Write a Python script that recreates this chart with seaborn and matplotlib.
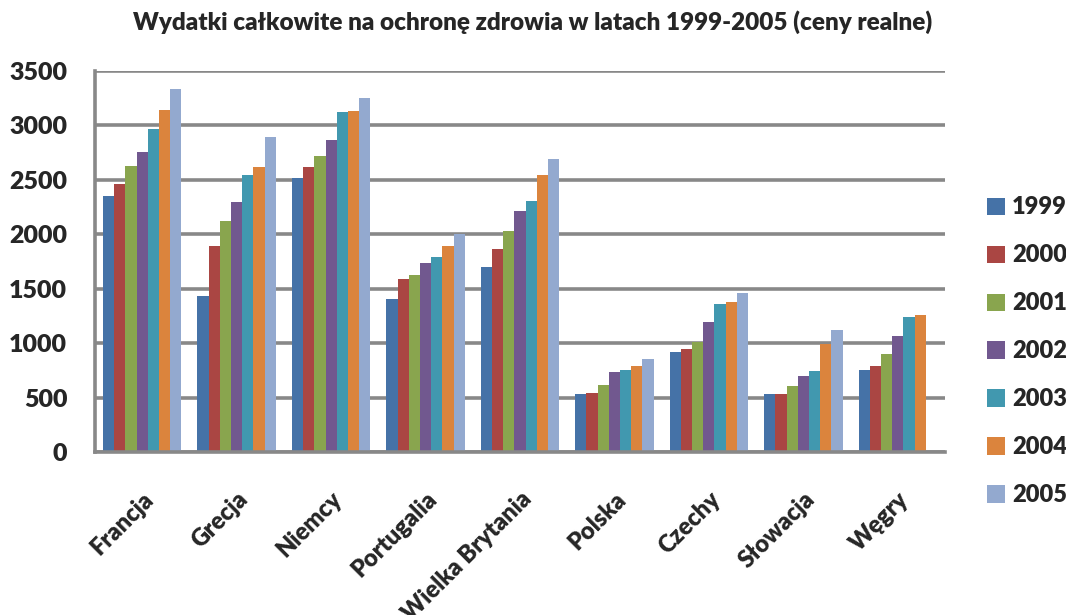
import numpy as np
import pandas as pd
import matplotlib
matplotlib.use("Agg")
import matplotlib.pyplot as plt
import seaborn as sns

countries = ["Francja", "Grecja", "Niemcy", "Portugalia", "Wielka Brytania",
             "Polska", "Czechy", "Słowacja", "Węgry"]
years = ["1999", "2000", "2001", "2002", "2003", "2004", "2005"]

v1999 = [2354, 1436, 2520, 1402, 1696, 533, 919, 530, 756]
v2000 = [2459, 1895, 2615, 1589, 1862, 545, 943, 530, 790]
v2001 = [2624, 2119, 2719, 1626, 2027, 615, 1013, 603, 897]
v2002 = [2753, 2293, 2863, 1733, 2214, 732, 1191, 698, 1063]
v2003 = [2967, 2541, 3120, 1791, 2309, 756, 1356, 744, 1237]
v2004 = [3145, 2615, 3132, 1895, 2545, 793, 1378, 992, 1258]
v2005 = [3332, 2897, 3249, 2003, 2688, 851, 1461, 1121, np.nan]

series = [v1999, v2000, v2001, v2002, v2003, v2004, v2005]
colors = ["#4572A7", "#AA4643", "#89A54E", "#71588F", "#4198AF", "#DB843D", "#93A9CF"]

rows = []
for y, vals in zip(years, series):
    for c, v in zip(countries, vals):
        rows.append({"country": c, "year": y, "value": v})
df = pd.DataFrame(rows)

sns.set_theme(style="white")
plt.rcParams["font.family"] = ["Lato", "DejaVu Sans"]
plt.rcParams["font.weight"] = "bold"

fig = plt.figure(figsize=(10.66, 6.15), dpi=100)
ax = fig.add_axes([95/1066, 1-452/615, (945-95)/1066, (452-71)/615])

sns.barplot(data=df, x="country", y="value", hue="year", order=countries,
            hue_order=years, palette=colors, width=0.83, ax=ax,
            saturation=1, linewidth=0, errorbar=None, legend=True)

ax.set_ylim(0, 3500)
ax.set_yticks(range(0, 3501, 500))
ax.set_xlim(-0.5, len(countries) - 0.5)
ax.yaxis.grid(True, color="#888888", linewidth=2.6)
ax.set_axisbelow(True)
for s in ["top", "right"]:
    ax.spines[s].set_visible(False)
ax.spines["left"].set_color("#888888")
ax.spines["left"].set_linewidth(2.6)
ax.spines["bottom"].set_color("#888888")
ax.spines["bottom"].set_linewidth(2.6)
ax.tick_params(axis="both", length=0)
ax.tick_params(axis="y", labelsize=18, pad=20)
ax.set_xlabel("")
ax.set_ylabel("")
for lab in ax.get_yticklabels():
    lab.set_fontweight("heavy")
ax.set_xticks(range(len(countries)))
ax.set_xticklabels(countries, rotation=45, ha="right", rotation_mode="anchor",
                   fontsize=17, fontweight="heavy")
ax.tick_params(axis="x", pad=26)

fig.text(0.5, 1-22/615, "Wydatki całkowite na ochronę zdrowia w latach 1999-2005 (ceny realne)",
         ha="center", va="center", fontsize=17.5, fontweight="heavy")

handles, labels = ax.get_legend_handles_labels()
ax.legend(handles, labels, loc="upper left", bbox_to_anchor=(978/1066, 1-187/615),
          bbox_transform=fig.transFigure, frameon=False, fontsize=17,
          handlelength=0.75, handleheight=0.75, handletextpad=0.3,
          labelspacing=1.1, borderaxespad=0)
for t in ax.get_legend().get_texts():
    t.set_fontweight("heavy")

fig.savefig("out.png", dpi=100)
